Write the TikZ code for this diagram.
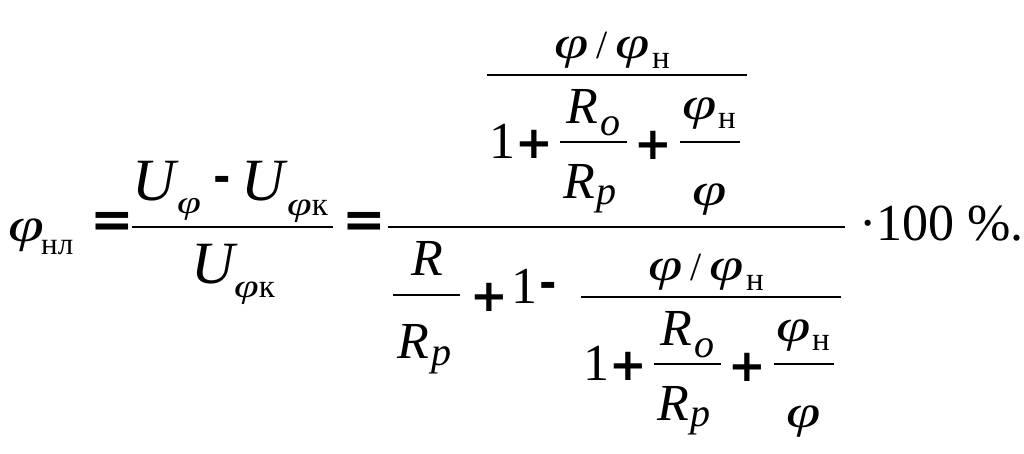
\documentclass[tikz,border=0pt]{standalone}
\usepackage{fontspec}
\usepackage{tikz}
\usetikzlibrary{calc}
\setmainfont{Liberation Serif}
\newfontfamily\opfont{DejaVu Sans}
\newfontfamily\phifont{Liberation Serif Italic}[FakeStretch=1.35]
\tikzstyle{bigvar} =[
    inner sep=0pt,
    anchor=base west,
    font=\fontsize{60}{66}\selectfont\itshape
    ]
\tikzstyle{var} =[
    inner sep=0pt,
    anchor=base west,
    font=\fontsize{52}{60}\selectfont\itshape
    ]
\tikzstyle{phivar} =[
    inner sep=0pt,
    anchor=base west,
    font=\fontsize{46}{52}\selectfont\phifont
    ]
\tikzstyle{subvar} =[
    inner sep=0pt,
    anchor=base west,
    font=\fontsize{40}{44}\selectfont\itshape
    ]
\tikzstyle{subtext} =[
    inner sep=0pt,
    anchor=base west,
    font=\fontsize{33}{38}\selectfont
    ]
\tikzstyle{num} =[
    inner sep=0pt,
    anchor=base west,
    font=\fontsize{52}{60}\selectfont
    ]
\tikzstyle{oper} =[
    inner sep=0pt,
    font=\fontsize{45}{50}\selectfont\opfont\bfseries
    ]
\tikzstyle{thinbar} =[line width=1.3pt]
\tikzstyle{thickbar} =[line width=2.4pt]

% phi/phi_n over 1 + R_o/R_p + phi_n/phi
\tikzset{phiratio/.pic={
    \node[phivar] (-phia) at (554,58) {φ};
    \node[subtext, font=\fontsize{40}{44}\selectfont] (-slash) at (596,58) {/};
    \node[phivar] (-phib) at (615,58) {φ};
    \node[subtext] (-nb) at (652,68) {н};
    \coordinate (-topl) at (487,75);
    \coordinate (-topr) at (747,75);
    \draw[thinbar] (-topl) -- (-topr);
    \node[num] (-one) at (489,158) {1};
    \node[oper] (-plusa) at (534,144) {+};
    \node[var] (-ro) at (566,123) {R};
    \node[subvar] (-o) at (600,135) {o};
    \coordinate (-rol) at (560,142);
    \coordinate (-ror) at (627,142);
    \draw[thinbar] (-rol) -- (-ror);
    \node[var] (-rp) at (563,198) {R};
    \node[subvar] (-p) at (596,204) {p};
    \node[oper] (-plusb) at (653,145) {+};
    \node[phivar] (-phic) at (682,119) {φ};
    \node[subtext] (-nc) at (718,128) {н};
    \coordinate (-phl) at (680,142);
    \coordinate (-phr) at (740,142);
    \draw[thinbar] (-phl) -- (-phr);
    \node[phivar] (-phid) at (692,205) {φ};
}}

\begin{document}
\begin{tikzpicture}[x=1pt, y=-1pt]
\useasboundingbox[fill=white] (0,0) rectangle (1024,453);

\node[phivar, font=\fontsize{48}{54}\selectfont\phifont] (phi) at (8,241) {φ};
\node[subtext, font=\fontsize{31}{36}\selectfont] (nl) at (41,254) {нл};
\node[oper, font=\fontsize{52}{56}\selectfont\opfont\bfseries] (eqa) at (112,225) {=};

% first fraction
\node[bigvar] (ua) at (132,200) {U};
\node[phivar, font=\fontsize{32}{36}\selectfont\phifont] (ufa) at (177,213) {φ};
\node[oper, font=\fontsize{42}{46}\selectfont\opfont\bfseries] (minusa) at (222,184) {-};
\node[bigvar] (ub) at (241,200) {U};
\node[subtext] (ufb) at (287,215) {{\phifont φ}к};
\coordinate (fracal) at (132,227);
\coordinate (fracar) at (333,227);
\draw[thickbar, line width=2pt] (fracal) -- (fracar);
\node[bigvar] (uc) at (191,283) {U};
\node[subtext] (ufc) at (234,297) {{\phifont φ}к};

\node[oper, font=\fontsize{52}{56}\selectfont\opfont\bfseries] (eqb) at (364,225) {=};

% main fraction
\coordinate (mainl) at (388,227);
\coordinate (mainr) at (845,227);
\draw[thickbar] (mainl) -- (mainr);
\pic (up) at (0,0) {phiratio};

\node[var] (ra) at (411,275) {R};
\coordinate (rfl) at (393,295);
\coordinate (rfr) at (460,295);
\draw[thinbar] (rfl) -- (rfr);
\node[var] (rb) at (397,358) {R};
\node[subvar] (pb) at (431,365) {p};
\node[oper] (plusc) at (489,297) {+};
\node[num] (onec) at (511,303) {1};
\node[oper, font=\fontsize{42}{46}\selectfont\opfont\bfseries] (minusb) at (548,290) {-};
\pic (low) at (94,222) {phiratio};

\node[num] (pct) at (859,240) {·100 \%.};
\end{tikzpicture}
\end{document}
